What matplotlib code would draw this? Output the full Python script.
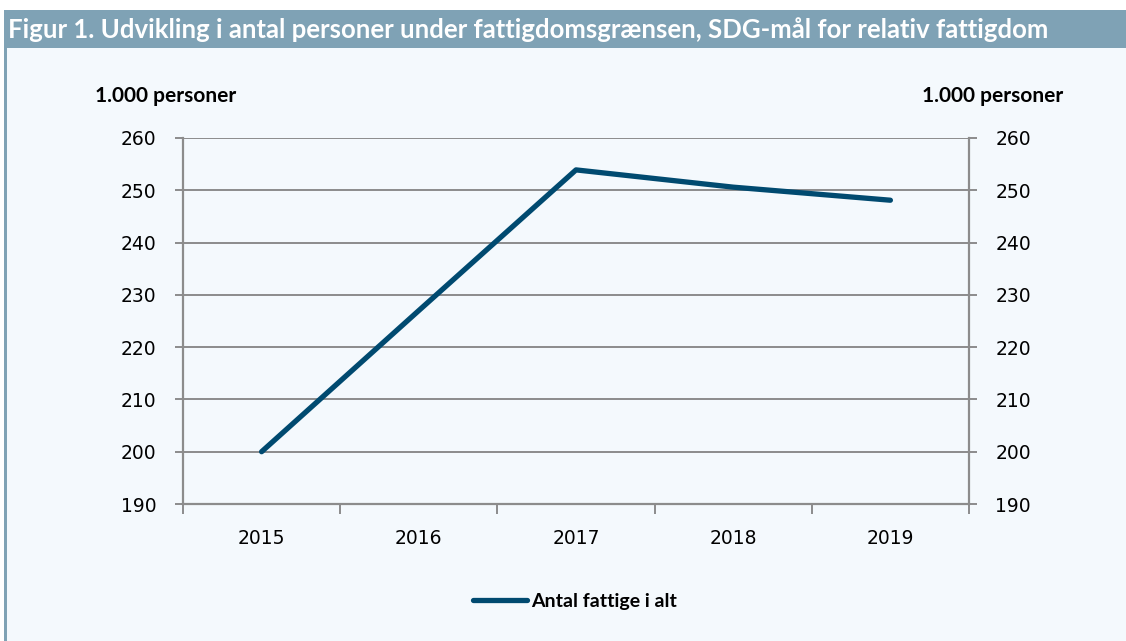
import numpy as np
import matplotlib.pyplot as plt
from matplotlib.patches import Rectangle

# data (1.000 personer)
years = ['2015', '2016', '2017', '2018', '2019']
fattige = [200.0, 227.0, 253.9, 250.6, 248.1]
yticks = [190, 200, 210, 220, 230, 240, 250, 260]

title = 'Figur 1. Udvikling i antal personer under fattigdomsgrænsen, SDG-mål for relativ fattigdom'
unit = '1.000 personer'
series_label = 'Antal fattige i alt'

band_col = '#7fa2b5'
bg_col = '#f4f9fd'
line_col = '#004a70'
grid_col = '#8c8c8c'

fig = plt.figure(figsize=(11.26, 6.41), dpi=100)
fig.patch.set_facecolor('white')

# panel background, title band, left strip
fig.add_artist(Rectangle((0.0062, 0), 1, 1 - 48/641, transform=fig.transFigure,
                         facecolor=bg_col, edgecolor='none', zorder=0))
fig.add_artist(Rectangle((0.0035, 1 - 48/641), 1, 38/641, transform=fig.transFigure,
                         facecolor=band_col, edgecolor='none', zorder=0))
fig.add_artist(Rectangle((0.0035, 0), 0.0027, 1 - 48/641, transform=fig.transFigure,
                         facecolor=band_col, edgecolor='none', zorder=0))
fig.text(0.0075, 1 - 30/641, title, color='white', fontsize=18.5, fontweight='bold',
         family='Lato', va='center', ha='left')

ax = fig.add_axes([183/1126, 1 - 504/641, 786/1126, 366/641])
ax.set_facecolor('none')
x = np.arange(len(years))
ax.plot(x, fattige, color=line_col, lw=3.8, solid_capstyle='round', label=series_label, zorder=3)

ax.set_xlim(-0.5, len(years) - 0.5)
ax.set_ylim(190, 260)
ax.set_yticks(yticks)
ax.yaxis.grid(True, color=grid_col, lw=1.4)
ax.set_axisbelow(True)

ax.set_xticks(np.arange(-0.5, len(years), 1.0))
ax.set_xticklabels([])
ax.set_xticks(x, minor=True)
ax.set_xticklabels(years, minor=True, fontsize=13.5, family='DejaVu Sans')
ax.tick_params(axis='x', which='major', length=7, width=1.4, color=grid_col, direction='out')
ax.tick_params(axis='x', which='minor', length=0, pad=18)
ax.tick_params(axis='y', length=6, width=1.4, color=grid_col, labelsize=13.5,
               left=True, right=True, labelleft=True, labelright=True, pad=13)

for s in ['left', 'right', 'bottom']:
    ax.spines[s].set_color(grid_col)
    ax.spines[s].set_linewidth(1.6)
ax.spines['top'].set_visible(False)

fig.text(95/1126, 1 - 96/641, unit, fontsize=15, fontweight='bold', family='Lato',
         ha='left', va='center')
fig.text(1063/1126, 1 - 96/641, unit, fontsize=15, fontweight='bold', family='Lato',
         ha='right', va='center')

fig.legend(loc='center', bbox_to_anchor=(575/1126, 1 - 601/641), frameon=False,
           prop={'family': 'Lato', 'weight': 'bold', 'size': 14},
           handlelength=2.8, handletextpad=0.2)

fig.savefig('out.png', dpi=100)
